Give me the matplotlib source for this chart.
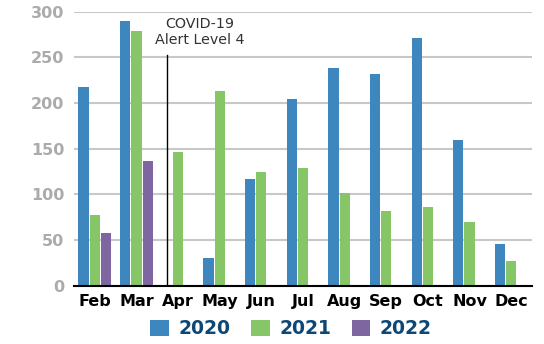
import matplotlib.pyplot as plt
import numpy as np

months = ["Feb", "Mar", "Apr", "May", "Jun", "Jul", "Aug", "Sep", "Oct", "Nov", "Dec"]
y2020 = [218, 290, 1, 31, 117, 204, 238, 232, 271, 160, 46]
y2021 = [78, 279, 147, 213, 125, 129, 102, 82, 86, 70, 27]
y2022 = [58, 137, 0, 0, 0, 0, 0, 0, 0, 0, 0]
years = ["2020", "2021", "2022"]
colors = ["#3d86be", "#86c666", "#7e67a0"]

fig = plt.figure(figsize=(5.44, 3.44), dpi=100)
ax = fig.add_axes([0.136, 0.169, 0.842, 0.797])

x = np.arange(len(months))
w = 0.245
step = 0.27
for i, (vals, c, lab) in enumerate(zip([y2020, y2021, y2022], colors, years)):
    ax.bar(x + (i - 1) * step, vals, width=w, color=c, label=lab, zorder=2)

ax.set_xlim(-0.5, 10.5)
ax.set_ylim(0, 300)
ax.set_yticks(range(0, 301, 50))
ax.yaxis.grid(True, color="#c8c8c8", linewidth=1.5, zorder=0)
ax.set_axisbelow(True)
for s in ["top", "right", "left"]:
    ax.spines[s].set_visible(False)
ax.spines["bottom"].set_color("black")
ax.spines["bottom"].set_linewidth(1.5)
ax.spines["bottom"].set_zorder(3)
ax.tick_params(axis="both", length=0)
ax.tick_params(axis="y", pad=7, labelsize=11.5, labelcolor="#ababab")
ax.tick_params(axis="x", pad=6, labelsize=11.5, labelcolor="black")
ax.set_xticks(x)
ax.set_xticklabels(months, fontweight="bold")
for t in ax.get_yticklabels():
    t.set_fontweight("bold")

# lockdown marker
ax.plot([1.73, 1.73], [0, 253], color="black", linewidth=1, zorder=3)
ax.text(2.52, 278, "COVID-19\nAlert Level 4", ha="center", va="center",
        fontsize=10.3, color="#333333", linespacing=1.15)

leg = fig.legend(loc="center", bbox_to_anchor=(0.535, 0.044), ncol=3, frameon=False,
                 handlelength=1.0, handleheight=1.0, handletextpad=0.5,
                 columnspacing=1.1, prop={"weight": "bold", "size": 13.5})
for t in leg.get_texts():
    t.set_color("#0d4776")

fig.savefig("out.png", dpi=100)
